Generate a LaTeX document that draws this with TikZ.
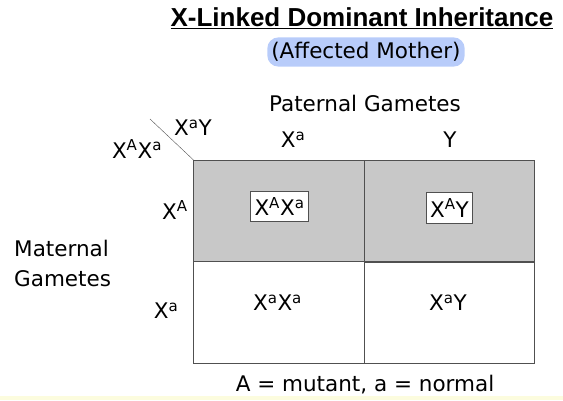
\documentclass[tikz,border=0pt]{standalone}
\usepackage{fontspec}
\setmainfont{DejaVu Sans}
\newfontfamily\titlefont{Liberation Sans Bold}
\usepackage{xcolor}
\usetikzlibrary{positioning}
\definecolor{cellgray}{RGB}{200,200,200}
\definecolor{gridline}{RGB}{80,80,80}
\definecolor{hlblue}{RGB}{184,204,250}
\definecolor{stripyellow}{RGB}{252,252,222}
\newcommand{\sx}[1]{X\textsuperscript{#1}}

\begin{document}
\begin{tikzpicture}[x=1pt,y=-1pt,
  lbl/.style={font=\fontsize{21.5}{30}\selectfont,inner sep=0pt},
  cell/.style={draw=gridline,line width=.8pt,minimum width=170.5pt,minimum height=101.5pt,inner sep=0pt},
  genobox/.style={lbl,draw=gridline,fill=white,inner xsep=4pt,inner ysep=6pt,line width=.8pt}]
\useasboundingbox (0,0) rectangle (563,400);
\fill[stripyellow] (0,396) rectangle (563,400);
% heading
\node[font=\titlefont\fontsize{26}{30}\selectfont,inner sep=0pt] (title) at (362,18) {\underline{X-Linked Dominant Inheritance}};
\node[lbl,fill=hlblue,rounded corners=11pt,inner xsep=4pt,inner ysep=5pt] (mother) at (366,52) {(Affected Mother)};
\node[lbl] (paternal) at (365,103) {Paternal Gametes};
% punnett square
\node[cell,fill=cellgray] (AA) at (279,211) {};
\node[cell,fill=cellgray] (AY) at (449.5,211) {};
\node[cell] (aa) at (279,312.5) {};
\node[cell] (aY) at (449.5,312.5) {};
\draw[gridline,line width=2pt] (AY.south west) -- (AY.south east);
\node[genobox] (gAA) at (279.5,206.5) {\sx{A}\sx{a}};
\node[genobox] (gAY) at (449.5,208) {\sx{A}Y};
\node[lbl] (gaa) at (277.5,303) {\sx{a}\sx{a}};
\node[lbl] (gaY) at (448,303) {\sx{a}Y};
% gametes
\node[lbl] (pa) at (293,140) {\sx{a}};
\node[lbl] (pY) at (450,140) {Y};
\node[lbl] (mA) at (175,210) {\sx{A}};
\node[lbl] (ma) at (166,311) {\sx{a}};
\node[lbl,anchor=west,align=left] (maternal) at (14,263) {Maternal\\Gametes};
% corner
\node[lbl] (mom) at (137,149) {\sx{A}\sx{a}};
\node[lbl] (dad) at (193,128) {\sx{a}Y};
\coordinate (slash) at (150,119);
\draw[gridline] (slash) -- (AA.north west);
\node[lbl] (key) at (365,385) {A = mutant, a = normal};
\end{tikzpicture}
\end{document}
